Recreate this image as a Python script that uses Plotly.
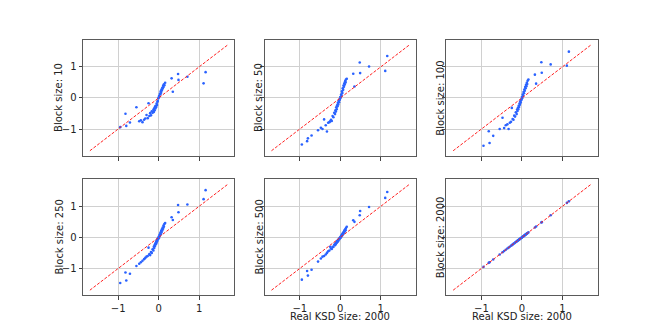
import plotly.graph_objects as go

# Real KSD values (size 2000), shared by all panels
real_ksd = [-0.95, -0.82, -0.80, -0.71, -0.55, -0.48, -0.44, -0.40, -0.36, -0.33,
            -0.30, -0.27, -0.25, -0.23, -0.21, -0.19, -0.17, -0.15, -0.13, -0.12,
            -0.11, -0.10, -0.09, -0.08, -0.07, -0.06, -0.05, -0.04, -0.03, -0.02,
            -0.01, 0.00, 0.01, 0.02, 0.03, 0.04, 0.05, 0.06, 0.07, 0.08,
            0.09, 0.10, 0.11, 0.12, 0.13, 0.14, 0.16, 0.32, 0.35, 0.48,
            0.49, 0.71, 1.11, 1.16]

block_10 = [-0.94, -0.51, -0.90, -0.79, -0.30, -0.75, -0.72, -0.78, -0.70, -0.66,
            -0.55, -0.65, -0.17, -0.58, -0.49, -0.56, -0.43, -0.48, -0.38, -0.45,
            -0.33, -0.40, -0.28, -0.34, -0.25, -0.29, -0.18, -0.23, -0.12, -0.10,
            -0.02, 0.01, 0.06, 0.05, 0.13, 0.12, 0.21, 0.17, 0.27, 0.24,
            0.33, 0.30, 0.39, 0.35, 0.44, 0.41, 0.49, 0.63, 0.20, 0.77,
            0.58, 0.68, 0.47, 0.83]

block_50 = [-1.50, -1.39, -1.30, -1.21, -1.04, -0.96, -1.00, -0.69, -0.88, -1.08,
            -0.80, -0.78, -0.75, -0.70, -0.74, -0.58, -0.62, -0.48, -0.52, -0.40,
            -0.44, -0.30, -0.36, -0.24, -0.27, -0.16, -0.21, -0.10, -0.14, -0.04,
            -0.06, 0.03, 0.01, 0.11, 0.08, 0.21, 0.16, 0.31, 0.26, 0.40,
            0.36, 0.47, 0.43, 0.54, 0.50, 0.59, 0.62, 0.78, 0.37, 1.14,
            0.80, 1.01, 0.87, 1.35]

block_100 = [-1.54, -1.07, -1.45, -1.22, -1.00, -0.64, -0.97, -0.88, -0.85, -1.00,
             -0.80, -0.77, -0.32, -0.68, -0.70, -0.57, -0.60, -0.46, -0.52, -0.37,
             -0.42, -0.32, -0.36, -0.25, -0.29, -0.18, -0.22, -0.11, -0.15, -0.05,
             -0.06, 0.03, 0.00, 0.11, 0.07, 0.19, 0.15, 0.27, 0.23, 0.35,
             0.31, 0.42, 0.38, 0.49, 0.45, 0.55, 0.59, 0.75, 0.46, 1.15,
             0.81, 1.08, 1.04, 1.49]

block_250 = [-1.47, -1.13, -1.39, -1.17, -0.92, -0.85, -0.80, -0.75, -0.70, -0.66,
             -0.62, -0.60, -0.33, -0.54, -0.57, -0.47, -0.50, -0.38, -0.42, -0.30,
             -0.34, -0.25, -0.28, -0.19, -0.22, -0.13, -0.17, -0.08, -0.11, -0.03,
             -0.05, 0.02, -0.01, 0.08, 0.05, 0.14, 0.10, 0.20, 0.16, 0.26,
             0.22, 0.32, 0.28, 0.38, 0.34, 0.43, 0.46, 0.65, 0.56, 1.04,
             0.81, 1.06, 1.23, 1.52]

block_500 = [-1.36, -1.08, -1.23, -1.04, -0.78, -0.68, -0.62, -0.60, -0.55, -0.50,
             -0.45, -0.42, -0.30, -0.36, -0.37, -0.30, -0.31, -0.24, -0.25, -0.19,
             -0.21, -0.16, -0.18, -0.12, -0.15, -0.09, -0.12, -0.05, -0.07, -0.02,
             -0.04, 0.01, -0.01, 0.05, 0.03, 0.09, 0.07, 0.13, 0.11, 0.17,
             0.15, 0.22, 0.19, 0.26, 0.23, 0.30, 0.34, 0.55, 0.50, 0.71,
             0.85, 0.98, 1.27, 1.46]

block_2000 = list(real_ksd)

panel_series = [block_10, block_50, block_100, block_250, block_500, block_2000]
panel_labels = ["Block size: 10", "Block size: 50", "Block size: 100",
                "Block size: 250", "Block size: 500", "Block size: 2000"]
x_label = "Real KSD size: 2000"
diag = [-1.70, 1.70]
tick_vals = [-1, 0, 1]
tick_text = ["\u22121", "0", "1"]
axis_range = [-1.87, 1.87]

W, H = 664, 332
col_domains = [[0.125, 0.3529], [0.3985, 0.6265], [0.6721, 0.9]]
row_domains = [[0.53, 0.88], [0.11, 0.46]]

FONT = "DejaVu Sans"
FS = 10
fig = go.Figure()
layout = dict(
    width=W, height=H, margin=dict(l=0, r=0, t=0, b=0),
    paper_bgcolor="white", plot_bgcolor="white", showlegend=False,
    font=dict(family=FONT, size=FS, color="#222222"),
)
annotations = []
for i, ys in enumerate(panel_series):
    r, c = divmod(i, 3)
    n = i + 1
    xa = "x" if n == 1 else f"x{n}"
    ya = "y" if n == 1 else f"y{n}"
    fig.add_trace(go.Scatter(x=real_ksd, y=ys, mode="markers", xaxis=xa, yaxis=ya,
                             marker=dict(size=2.6, color="#2a62ff", line=dict(width=0))))
    fig.add_trace(go.Scatter(x=diag, y=diag, mode="lines", xaxis=xa, yaxis=ya,
                             line=dict(color="#ff2020", width=1, dash="3px,1.6px")))
    common = dict(range=axis_range, showgrid=True, gridcolor="#d0d0d0", gridwidth=1,
                  zeroline=False, showline=True, linecolor="#5a5a5a", linewidth=1,
                  mirror=True, ticks="outside", ticklen=3.5, tickwidth=1,
                  tickcolor="#444444", tickvals=tick_vals, ticktext=tick_text,
                  tickfont=dict(family=FONT, size=FS, color="#222222"), fixedrange=True)
    layout["xaxis" if n == 1 else f"xaxis{n}"] = dict(
        common, domain=col_domains[c], anchor=ya, showticklabels=(r == 1))
    layout["yaxis" if n == 1 else f"yaxis{n}"] = dict(
        common, domain=row_domains[r], anchor=xa, showticklabels=(c == 0))
    # y-axis title
    x_left_px = col_domains[c][0] * W
    offset = 24 if c == 0 else 5.5
    annotations.append(dict(
        text=panel_labels[i], x=(x_left_px - offset) / W,
        y=(row_domains[r][0] + row_domains[r][1]) / 2, xref="paper", yref="paper",
        textangle=-90, showarrow=False, xanchor="center", yanchor="middle",
        font=dict(family=FONT, size=FS, color="#222222")))
    if r == 1 and c > 0:
        annotations.append(dict(
            text=x_label, x=(col_domains[c][0] + col_domains[c][1]) / 2,
            y=1 - 316.5 / H, xref="paper", yref="paper", showarrow=False,
            xanchor="center", yanchor="middle",
            font=dict(family=FONT, size=FS, color="#222222")))

layout["annotations"] = annotations
fig.update_layout(**layout)
fig.write_html("out.html", config={"displayModeBar": False},
               post_script="document.body.style.margin='0';document.body.style.overflow='hidden';")
